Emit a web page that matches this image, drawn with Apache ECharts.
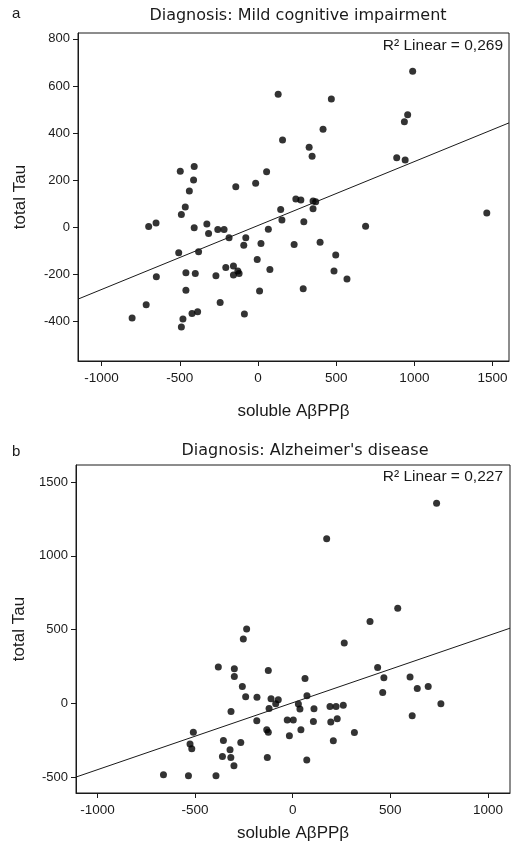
<!DOCTYPE html>
<html>
<head>
<meta charset="utf-8">
<script src="https://cdn.jsdelivr.net/npm/echarts@6/dist/echarts.min.js"></script>
<style>html,body{margin:0;padding:0;background:#fff}#c{width:511px;height:852px}</style>
</head>
<body>
<div id="c"></div>
<script>
// Panel a: Mild cognitive impairment
const mciPoints = [
[129,565],[-497,237],[-408,258],[-412,200],[-439,153],[-465,86],[-490,54],
[-142,172],[-15,186],[55,235],
[989,662],[469,545],[957,478],[936,448],[416,416],[157,370],[327,339],[346,301],[887,295],[941,285],
[242,119],[274,115],[352,111],[369,108],[145,75],[352,78],
[153,30],[293,23],[66,-9],[688,4],[1463,60],
[19,-70],[231,-74],[397,-64],[497,-118],[-5,-138],[76,-180],[486,-186],[569,-220],[10,-272],[289,-262],
[-699,3],[-652,18],[-408,-3],[-327,13],[-316,-27],[-257,-10],[-217,-10],[-185,-45],[-78,-45],[-91,-77],
[-507,-109],[-380,-105],[-206,-172],[-157,-165],[-157,-204],[-121,-197],[-129,-187],[-269,-207],
[-461,-194],[-401,-197],[-650,-211],[-461,-268],[-242,-320],[-715,-330],[-805,-386],[-422,-367],
[-386,-360],[-480,-390],[-490,-424],[-87,-369]
];
const mciFit = [[-1151,-306],[1605,443]];
const mciXTicks = [-1000,-500,0,500,1000,1500];
const mciYTicks = [-400,-200,0,200,400,600,800];

// Panel b: Alzheimer's disease
const adPoints = [
[737,1356],[174,1116],[538,645],[396,555],[264,409],[-125,223],[63,169],[435,244],[467,174],[601,179],
[694,115],[638,101],[461,75],[73,52],
[-111,32],[-74,25],[-87,-2],[-121,-34],[29,-4],[37,-38],[109,-36],[191,-20],[222,-20],[259,-11],[759,-2],[612,-83],
[-28,-112],[3,-112],[106,-122],[195,-126],[228,-103],[-133,-178],[-125,-194],[42,-178],[-17,-219],[316,-196],
[208,-252],[-130,-365],[72,-383],
[-236,505],[-253,436],[-381,248],[-299,235],[-299,183],[-258,115],[-241,45],[-183,43],[-316,-54],[-184,-117],
[-509,-194],[-526,-275],[-517,-307],[-355,-250],[-266,-264],[-321,-313],[-360,-359],[-317,-365],[-301,-421],
[-662,-482],[-534,-489],[-393,-489]
];
const adFit = [[-1110,-498],[1113,510]];
const adXTicks = [-1000,-500,0,500,1000];
const adYTicks = [-500,0,500,1000,1500];

const FONT = 'Liberation Sans, Arial, sans-serif';
const ink = '#1a1a1a';

function xAxis(idx, min, max, ticks, gap){
  return {
    type:'value', gridIndex:idx, min:min, max:max,
    name:'soluble AβPPβ', nameLocation:'middle', nameGap:gap,
    nameTextStyle:{fontFamily:FONT, fontSize:17, color:ink},
    axisLine:{show:true, onZero:false, lineStyle:{color:ink, width:1}},
    axisTick:{show:true, inside:false, length:5, customValues:ticks, lineStyle:{color:ink}},
    axisLabel:{customValues:ticks, formatter:v => String(v), fontFamily:FONT, fontSize:13.5, color:ink, margin:10},
    splitLine:{show:false}
  };
}
function yAxis(idx, min, max, ticks, gap){
  return {
    type:'value', gridIndex:idx, min:min, max:max,
    name:'total Tau', nameLocation:'middle', nameGap:gap, nameRotate:90,
    nameTextStyle:{fontFamily:FONT, fontSize:17, color:ink},
    axisLine:{show:true, onZero:false, lineStyle:{color:ink, width:1}},
    axisTick:{show:true, inside:false, length:5, customValues:ticks, lineStyle:{color:ink}},
    axisLabel:{customValues:ticks, formatter:v => String(v), fontFamily:FONT, fontSize:13, color:ink, margin:8},
    splitLine:{show:false}
  };
}

const TFONT = 'DejaVu Sans, Liberation Sans, sans-serif';
const chart = echarts.init(document.getElementById('c'), null, {renderer:'canvas'});
chart.setOption({
  animation:false,
  backgroundColor:'#fff',
  title:[
    {text:'Diagnosis: Mild cognitive impairment', left:293, top:3, textAlign:'center',
     textStyle:{fontFamily:TFONT, fontSize:16, fontWeight:'normal', color:ink}},
    {text:"Diagnosis: Alzheimer's disease", left:300, top:438, textAlign:'center',
     textStyle:{fontFamily:TFONT, fontSize:16, fontWeight:'normal', color:ink}}
  ],
  grid:[
    {left:78, top:33, right:2, bottom:491, show:true, borderColor:ink, borderWidth:1},
    {left:76, top:465, right:1, bottom:59, show:true, borderColor:ink, borderWidth:1}
  ],
  xAxis:[xAxis(0,-1151,1605,mciXTicks,42), xAxis(1,-1110,1113,adXTicks,32)],
  yAxis:[yAxis(0,-569,825,mciYTicks,49), yAxis(1,-606,1615,adYTicks,47)],
  series:[
    {type:'scatter', xAxisIndex:0, yAxisIndex:0, data:mciPoints, symbolSize:7,
     itemStyle:{color:'#000'}},
    {type:'line', xAxisIndex:0, yAxisIndex:0, data:mciFit, symbol:'none',
     lineStyle:{color:ink, width:1}},
    {type:'scatter', xAxisIndex:1, yAxisIndex:1, data:adPoints, symbolSize:7,
     itemStyle:{color:'#000'}},
    {type:'line', xAxisIndex:1, yAxisIndex:1, data:adFit, symbol:'none',
     lineStyle:{color:ink, width:1}}
  ],
  graphic:[
    {type:'text', left:12, top:6, style:{text:'a', font:'15px '+FONT, fill:ink}},
    {type:'text', left:12, top:444, style:{text:'b', font:'15px '+FONT, fill:ink}},
    {type:'text', right:8, top:38, style:{text:'R² Linear = 0,269', font:'15.5px '+FONT, fill:ink}},
    {type:'text', right:8, top:469, style:{text:'R² Linear = 0,227', font:'15.5px '+FONT, fill:ink}}
  ]
});
</script>
</body>
</html>
